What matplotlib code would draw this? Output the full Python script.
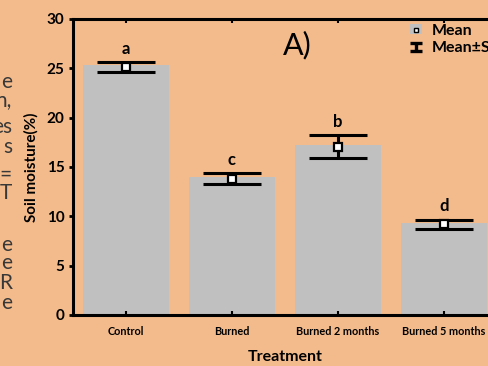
import matplotlib

matplotlib.use("Agg")

import matplotlib.pyplot as plt
import numpy as np
from matplotlib.lines import Line2D
from matplotlib.patches import Patch
from matplotlib.path import Path

treatments = ["Control", "Burned", "Burned 2 months", "Burned 5 months"]
bar_heights = [25.3, 14.0, 17.2, 9.3]
means = [25.1, 13.8, 17.05, 9.2]
std_err = [0.5, 0.55, 1.15, 0.45]
letters = ["a", "c", "b", "d"]
side_words = ["e", "n,", "es", "s", "=", "T", "e", "e", "R", "e"]

BG = "#F3BB8C"
BAR = "#C0C0C0"

plt.rcParams.update(
    {
        "font.family": ["Lato", "DejaVu Sans"],
        "axes.linewidth": 2.2,
    }
)

fig = plt.figure(figsize=(4.88, 3.66), dpi=100, facecolor=BG)
ax = fig.add_axes([73 / 488, 51 / 366, 424 / 488, 296 / 366], facecolor=BG)

x = np.arange(len(treatments))
ax.bar(x, bar_heights, width=0.82, color=BAR, zorder=1)
ax.errorbar(
    x, means, yerr=std_err, fmt="none", ecolor="black",
    elinewidth=2.2, capsize=21, capthick=2.2, zorder=2,
)
ax.plot(
    x, means, ls="none", marker="s", ms=6, mfc="white", mec="black",
    mew=1.6, zorder=3,
)

for xi, m, s, lab in zip(x, means, std_err, letters):
    ax.text(xi, m + s + 1.4, lab, ha="center", va="center",
            fontsize=12, fontweight="bold")

ax.set_xlim(-0.5, 3.5)
ax.set_ylim(0, 30)
ax.set_yticks(range(0, 31, 5))
ax.set_xticks(x)
ax.set_xticklabels(treatments, fontsize=7.8, fontweight="bold")
for t in ax.get_yticklabels():
    t.set_fontsize(11)
    t.set_fontweight("bold")
ax.tick_params(axis="y", direction="out", length=3, width=2, pad=3)
ax.tick_params(axis="x", direction="in", length=3, width=1.5, top=True, pad=8)
ax.set_xlabel("Treatment", fontsize=11.5, fontweight="bold", labelpad=9)
ax.set_ylabel("Soil moisture(%)", fontsize=11, fontweight="bold", labelpad=6)

ax.text(0.528, 0.912, "A)", transform=ax.transAxes, ha="center", va="center",
        fontsize=22)

ibeam = Path(
    [(-1, 0.65), (1, 0.65), (0, 0.65), (0, -0.65), (-1, -0.65), (1, -0.65)],
    [Path.MOVETO, Path.LINETO, Path.MOVETO, Path.LINETO, Path.MOVETO, Path.LINETO],
)
mean_handle = (
    Patch(facecolor=BAR, edgecolor="none"),
    Line2D([], [], ls="none", marker="s", ms=3.5, mfc="white", mec="black", mew=1),
)
se_handle = Line2D([], [], ls="none", marker=ibeam, ms=8, color="black",
                   mew=2.4, fillstyle="none")
fig.legend(
    [mean_handle, se_handle], ["Mean", "Mean±SE"],
    loc="upper left", bbox_to_anchor=(410 / 488, 1 - 24 / 366),
    frameon=False, prop={"weight": "bold", "size": 11.5},
    handlelength=0.75, handleheight=0.6, handletextpad=0.6, labelspacing=0.2,
    borderaxespad=0, borderpad=0,
)

side_y = [82, 100, 127, 147, 175, 193, 245, 263, 283, 303]
for word, yp in zip(side_words, side_y):
    fig.text(12 / 488, 1 - yp / 366, word, ha="right", va="center",
             fontsize=15, color="#383838")

fig.savefig("out.png", dpi=100, facecolor=BG)
